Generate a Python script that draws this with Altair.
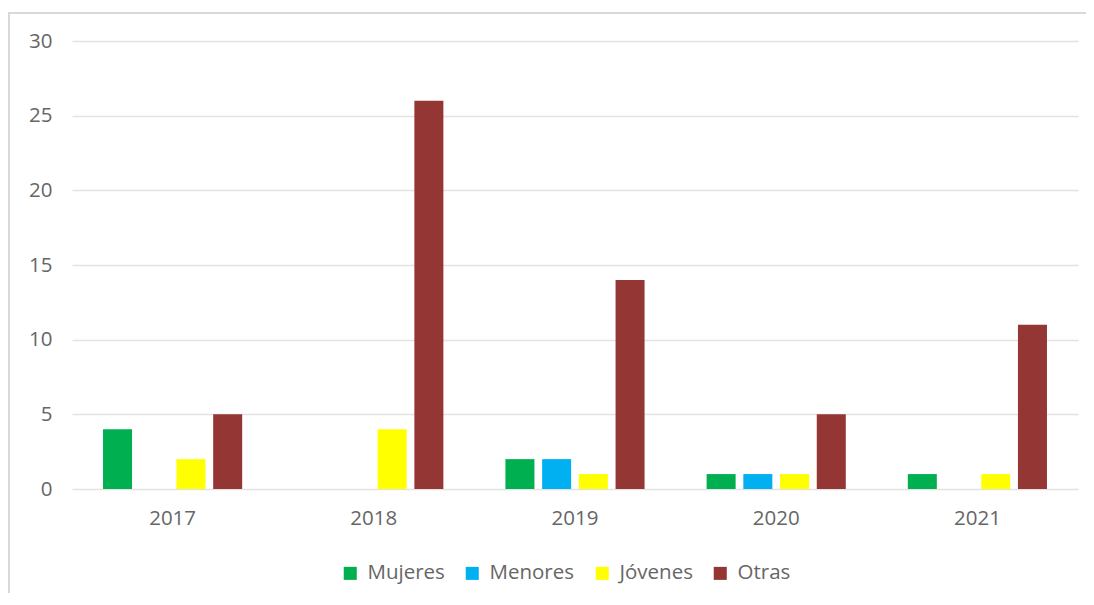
import altair as alt
import pandas as pd

years = ["2017", "2018", "2019", "2020", "2021"]
series = ["Mujeres", "Menores", "Jóvenes", "Otras"]
mujeres = [4, 0, 2, 1, 1]
menores = [0, 0, 2, 1, 0]
jovenes = [2, 4, 1, 1, 1]
otras = [5, 26, 14, 5, 11]
colors = ["#00B050", "#00B0F0", "#FFFF00", "#943634"]

rows = []
for name, vals in zip(series, [mujeres, menores, jovenes, otras]):
    for y, v in zip(years, vals):
        rows.append({"Año": y, "Serie": name, "Valor": v})
df = pd.DataFrame(rows)

FONT = "Open Sans"
GRAY = "#666666"
FS = 20.5

bars = alt.Chart(df).mark_bar().encode(
    x=alt.X("Año:N", sort=years,
            scale=alt.Scale(paddingInner=0, paddingOuter=0),
            axis=alt.Axis(title=None, labelAngle=0, ticks=False, domain=False,
                          labelPadding=19, labelFontSize=FS, labelColor=GRAY,
                          labelFont=FONT)),
    xOffset=alt.XOffset("Serie:N", sort=series,
                        scale=alt.Scale(paddingInner=0.21, paddingOuter=0.845)),
    y=alt.Y("Valor:Q", scale=alt.Scale(domain=[0, 30]),
            axis=alt.Axis(title=None, values=[0, 5, 10, 15, 20, 25, 30],
                          ticks=False, domain=False, labelPadding=20,
                          labelFontSize=FS, labelColor=GRAY, labelFont=FONT,
                          gridColor="#e3e3e3", gridWidth=1.3)),
    color=alt.Color("Serie:N", sort=series,
                    scale=alt.Scale(domain=series, range=colors),
                    legend=alt.Legend(title=None, orient="none", direction="horizontal",
                                      legendX=268, legendY=522,
                                      symbolType="square", symbolSize=170,
                                      symbolStrokeWidth=0, labelFontSize=FS,
                                      labelColor=GRAY, labelFont=FONT,
                                      columnPadding=17, labelOffset=7)),
)

frame = alt.Chart(pd.DataFrame({"a": [0]})).mark_rect(
    fill=None, stroke="#d9d9d9", strokeWidth=2
).encode(x=alt.value(-63), x2=alt.value(1200), y=alt.value(-28), y2=alt.value(700))

chart = alt.layer(frame, bars).properties(
    width=1006, height=448,
    autosize=alt.AutoSizeParams(type="none"),
    padding={"left": 64, "top": 33, "right": 8, "bottom": 104},
).configure_view(stroke=None)

chart.save("out.html", embed_options={"renderer": "svg", "actions": False})
